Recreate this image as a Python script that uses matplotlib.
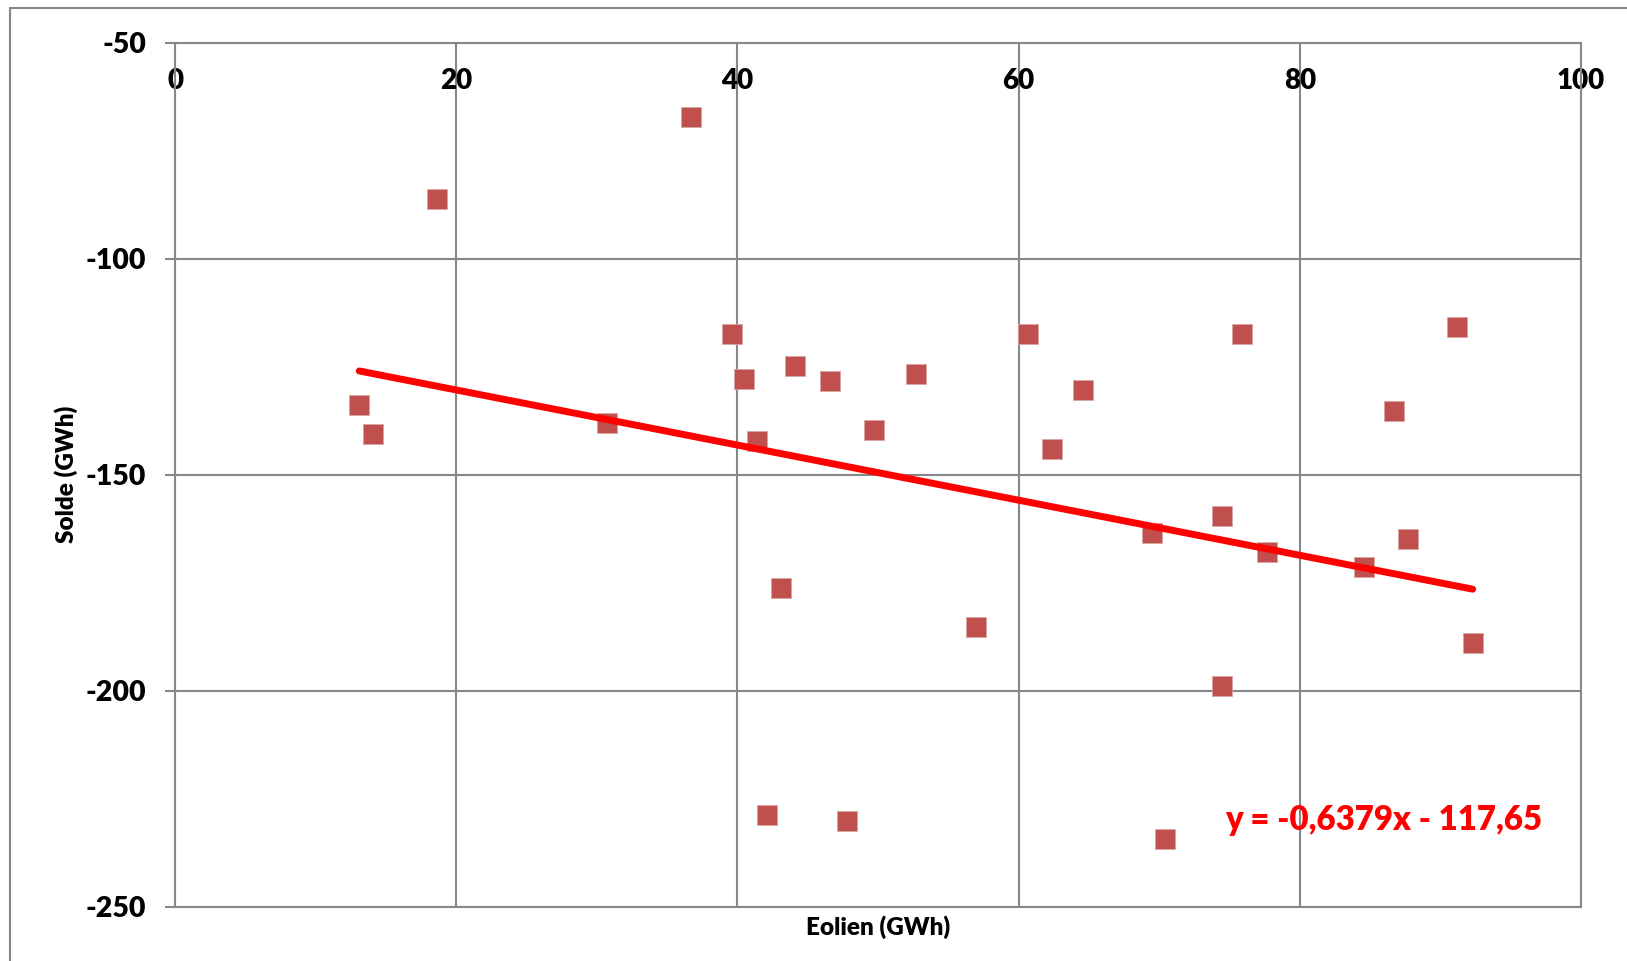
import numpy as np
import matplotlib.pyplot as plt
from matplotlib.patches import Rectangle

plt.rcParams['font.family'] = ['Lato', 'DejaVu Sans']
plt.rcParams['font.weight'] = 'heavy'
plt.rcParams['axes.unicode_minus'] = False

# Monthly wind production vs. exchange balance (GWh)
eolien = [13.1, 14.1, 18.6, 30.7, 36.7, 39.6, 40.5, 41.4, 42.1, 43.1,
          44.1, 46.6, 47.8, 49.7, 52.7, 57.0, 60.7, 62.4, 64.6, 69.5,
          70.4, 74.5, 74.5, 75.9, 77.7, 84.6, 86.7, 87.7, 91.2, 92.3]
solde = [-133.9, -140.6, -86.1, -138.0, -67.3, -117.5, -127.9, -142.3, -228.8, -176.2,
         -124.8, -128.4, -230.3, -139.7, -126.7, -185.3, -117.5, -144.0, -130.5, -163.5,
         -234.4, -159.6, -199.0, -117.5, -168.0, -171.4, -135.3, -164.9, -115.9, -188.9]

# Linear trend as reported
slope = -0.6379
intercept = -117.65

grid_col = '#878787'

fig = plt.figure(figsize=(16.27, 9.61), dpi=100)
ax = fig.add_axes([0.1076, 0.0567, 0.8641, 0.8989])

# outer chart frame (only top/left edges fall inside the image)
fig.patches.append(Rectangle((10/1627, -0.1), 1.2, 1 - 8.5/961 + 0.1,
                             transform=fig.transFigure, fill=False,
                             edgecolor=grid_col, lw=1.5))

ax.scatter(eolien, solde, marker='s', s=190, color='#C0504D',
           edgecolor='#D9A5A3', linewidth=0.6, zorder=3)

xfit = np.array([min(eolien), max(eolien)])
ax.plot(xfit, slope*xfit + intercept, color='#FF0000', lw=5,
        solid_capstyle='round', zorder=4)

ax.text(0.747, 0.1, 'y = -0,6379x - 117,65', transform=ax.transAxes,
        color='#FF0000', fontsize=23.8, fontweight='heavy',
        ha='left', va='center', zorder=5)

ax.set_xlim(0, 100)
ax.set_ylim(-250, -50)
ax.set_xticks([0, 20, 40, 60, 80, 100])
ax.set_yticks([-250, -200, -150, -100, -50])
ax.grid(True, color=grid_col, lw=1.5)
ax.set_axisbelow(True)
for s in ax.spines.values():
    s.set_color(grid_col)
    s.set_linewidth(1.5)

ax.tick_params(axis='x', bottom=False, labelbottom=False, top=True,
               labeltop=True, length=0, pad=-37, labelsize=20)
ax.tick_params(axis='y', direction='out', length=7, width=1.5,
               color=grid_col, pad=14, labelsize=20.5)

ax.set_xlabel('Eolien (GWh)', fontsize=17.5, fontweight='heavy', labelpad=6)
ax.set_ylabel('Solde (GWh)', fontsize=17.5, fontweight='heavy', labelpad=5)

fig.savefig('out.png', dpi=100)
